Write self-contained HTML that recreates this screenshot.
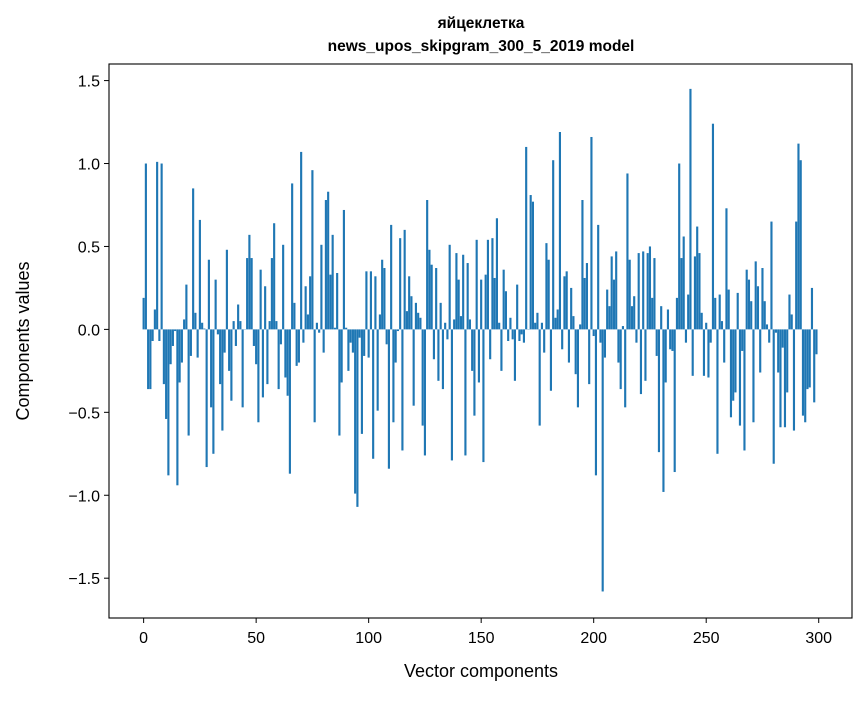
<!DOCTYPE html>
<html><head><meta charset="utf-8"><style>
body{margin:0;background:#fff;}
svg text{font-family:"Liberation Sans","DejaVu Sans",sans-serif;fill:#000;}
</style></head><body>
<svg id="chart" width="867" height="696" viewBox="0 0 867 696" xmlns="http://www.w3.org/2000/svg">
<rect width="867" height="696" fill="#fff"/>
<text x="481" y="28" font-size="15.5" font-weight="bold" text-anchor="middle">яйцеклетка</text>
<text x="481" y="51" font-size="15.5" font-weight="bold" text-anchor="middle">news_upos_skipgram_300_5_2019 model</text>
<g id="bars"></g>
<g id="axes"></g>
<rect x="109" y="64" width="743" height="554" fill="none" stroke="#000" stroke-width="1.1"/>
<text x="481" y="677" font-size="18" text-anchor="middle">Vector components</text>
<text transform="translate(29,341) rotate(-90)" font-size="18" text-anchor="middle">Components values</text>
</svg>
<script>
const values = [
0.19,1.0,-0.36,-0.36,-0.07,0.12,1.01,-0.07,1.0,-0.33,
-0.54,-0.88,-0.21,-0.1,-0.01,-0.94,-0.32,-0.2,0.06,0.27,
-0.64,-0.16,0.85,0.10,-0.17,0.66,0.04,0.005,-0.83,0.42,
-0.47,-0.75,0.3,-0.03,-0.33,-0.61,-0.14,0.48,-0.25,-0.43,
0.05,-0.1,0.15,0.05,-0.47,0.0,0.43,0.57,0.43,-0.1,
-0.21,-0.56,0.36,-0.41,0.26,-0.33,0.05,0.43,0.64,0.05,
-0.36,-0.09,0.51,-0.29,-0.40,-0.87,0.88,0.16,-0.22,-0.2,
1.07,-0.08,0.26,0.09,0.32,0.96,-0.56,0.04,-0.02,0.51,
-0.14,0.78,0.83,0.33,0.57,0.01,0.34,-0.64,-0.32,0.72,
0.01,-0.25,-0.08,-0.14,-0.99,-1.07,-0.05,-0.63,-0.16,0.35,
-0.17,0.35,-0.78,0.32,-0.49,0.09,0.42,0.37,-0.09,-0.84,
0.63,-0.56,-0.2,-0.01,0.55,-0.73,0.6,0.11,0.32,0.2,
-0.46,0.16,0.1,0.07,-0.58,-0.76,0.78,0.48,0.39,-0.18,
0.37,-0.31,0.16,-0.36,0.04,-0.06,0.51,-0.79,0.06,0.46,
0.3,0.08,0.45,-0.76,0.4,0.06,-0.25,-0.52,0.54,-0.32,
0.3,-0.8,0.33,0.54,-0.18,0.55,0.31,0.67,0.04,-0.25,
0.36,0.23,-0.07,0.07,-0.06,-0.31,0.27,-0.07,-0.03,-0.08,
1.10,0.0,0.81,0.77,0.04,0.10,-0.58,0.04,-0.14,0.52,
0.42,-0.37,1.02,0.07,0.12,1.19,-0.12,0.32,0.35,-0.20,
0.25,0.08,-0.27,-0.47,0.03,0.78,0.31,0.40,-0.33,1.16,
-0.04,-0.88,0.63,-0.08,-1.58,-0.17,0.24,0.14,0.44,0.30,
0.47,-0.2,-0.36,0.02,-0.47,0.94,0.42,0.14,0.2,-0.08,
0.46,-0.39,0.47,-0.31,0.46,0.50,0.19,0.43,-0.16,-0.74,
0.14,-0.98,-0.32,0.12,-0.12,-0.13,-0.86,0.19,1.0,0.43,
0.56,-0.08,0.21,1.45,-0.28,0.44,0.62,0.46,0.10,-0.28,
0.04,-0.29,-0.08,1.24,0.19,-0.75,0.21,0.05,-0.2,0.73,
0.24,-0.53,-0.43,-0.38,0.22,-0.58,-0.13,-0.73,0.36,0.3,
0.17,-0.56,0.41,0.26,-0.26,0.37,0.17,0.03,-0.08,0.65,
-0.81,-0.02,-0.26,-0.59,-0.11,-0.59,-0.38,0.21,0.09,-0.61,
0.65,1.12,1.02,-0.52,-0.56,-0.36,-0.35,0.25,-0.44,-0.15
];
const xTicks = [0,50,100,150,200,250,300];
const yTicks = [-1.5,-1.0,-0.5,0.0,0.5,1.0,1.5];
const yTickLabels = ["−1.5","−1.0","−0.5","0.0","0.5","1.0","1.5"];

const L=109,R=852,T=64,B=618;
const xMin=-15.39,xMax=314.79,yMin=-1.74,yMax=1.6;
const sx=v=>L+(v-xMin)/(xMax-xMin)*(R-L);
const sy=v=>B-(v-yMin)/(yMax-yMin)*(B-T);
const NS="http://www.w3.org/2000/svg";
const bars=document.getElementById('bars');
const w=sx(0.95)-sx(0);
values.forEach((v,i)=>{
  const r=document.createElementNS(NS,'rect');
  
  
  const y0=sy(0),y1=sy(v);
  r.setAttribute('x',sx(i)-w/2);
  r.setAttribute('y',Math.min(y0,y1));
  r.setAttribute('width',w);
  r.setAttribute('height',Math.max(Math.abs(y1-y0),0.3));
  r.setAttribute('fill','#1f77b4');
  bars.appendChild(r);
});
const axes=document.getElementById('axes');
xTicks.forEach(t=>{
  const x=sx(t);
  const l=document.createElementNS(NS,'line');
  
  
  l.setAttribute('x1',x);l.setAttribute('x2',x);l.setAttribute('y1',B);l.setAttribute('y2',B+5);
  l.setAttribute('stroke','#000');
  axes.appendChild(l);
  const tx=document.createElementNS(NS,'text');
  
  
  tx.setAttribute('x',x);tx.setAttribute('y',B+25);
  tx.setAttribute('font-size','16');tx.setAttribute('text-anchor','middle');
  tx.textContent=t;
  axes.appendChild(tx);
});
yTicks.forEach((t,i)=>{
  const y=sy(t);
  const l=document.createElementNS(NS,'line');
  
  
  l.setAttribute('x1',L-5);l.setAttribute('x2',L);l.setAttribute('y1',y);l.setAttribute('y2',y);
  l.setAttribute('stroke','#000');
  axes.appendChild(l);
  const tx=document.createElementNS(NS,'text');
  
  
  tx.setAttribute('x',L-9);tx.setAttribute('y',y+6);
  tx.setAttribute('font-size','16');tx.setAttribute('text-anchor','end');
  tx.textContent=yTickLabels[i];
  axes.appendChild(tx);
});
</script>
</body></html>
